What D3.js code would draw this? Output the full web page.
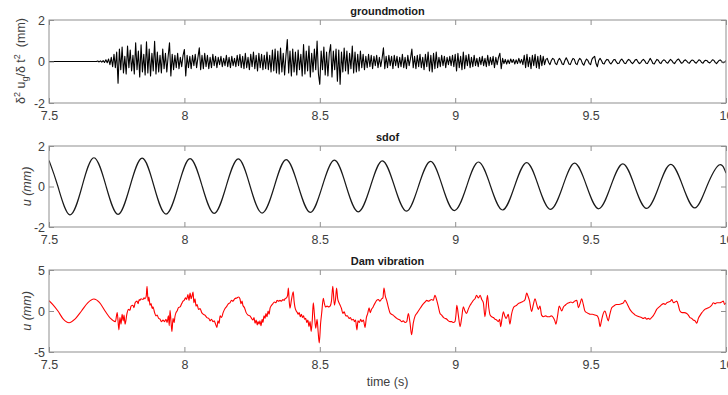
<!DOCTYPE html>
<html>
<head>
<meta charset="utf-8">
<script src="https://cdn.jsdelivr.net/npm/d3@7"></script>
<style>
  body { margin: 0; background: #fff; }
  svg { display: block; font-family: Arial, "Liberation Sans", Helvetica, sans-serif; }
</style>
</head>
<body>
<svg id="chart" width="728" height="395"></svg>
<script>
// x axis
const timeTicks = [7.5, 8, 8.5, 9, 9.5, 10];

// ground acceleration, sampled every 0.005 s from 7.5 s
const groundStart = 7.5;
const groundStep = 0.005;
const groundValues = [
  0,0,0,0,0,0,0,0,0,0,0,0,0,0,0,0,0,0,0,0,
  0,0,0,0,0,0,0,0,0,0,0,0,0,0,0,0,0.02,-0.02,0.03,-0.03,
  0.04,-0.05,0.08,-0.06,0.12,-0.15,0.2,-0.25,0.35,-0.3,0.45,-1.05,0.6,-0.4,0.7,-0.55,0.25,-0.6,0.75,-0.3,
  0.55,-0.45,0.3,-0.6,0.9,-0.4,0.5,-0.75,0.8,-0.5,0.35,-0.65,0.95,-0.55,0.6,-0.7,0.4,-0.45,0.97,-0.6,
  0.45,-0.5,0.3,-0.55,0.6,-0.35,0.4,-0.5,0.25,0.9,-0.7,0.35,-0.4,0.3,-0.3,0.4,-0.35,0.2,-0.25,0.3,
  0.58,-0.7,0.3,-0.3,0.25,-0.35,0.3,-0.2,0.35,-0.3,0.2,0.66,-0.4,0.3,-0.35,0.4,-0.25,0.3,-0.35,0.2,
  -0.3,0.35,-0.2,0.25,-0.3,0.2,-0.15,0.25,-0.25,0.15,-0.2,0.3,-0.25,0.2,-0.3,0.25,-0.2,0.15,-0.25,0.3,
  -0.2,0.35,-0.3,0.25,-0.35,0.4,-0.3,0.2,-0.4,0.35,-0.25,0.45,-0.35,0.3,-0.45,0.4,-0.3,0.35,-0.4,0.3,
  -0.35,0.45,-0.4,0.3,-0.5,0.55,-0.45,0.6,-0.55,0.5,-0.6,0.65,-0.5,0.4,-0.65,0.3,1.06,-0.55,0.5,-0.7,
  0.6,-0.5,0.45,-0.65,0.55,-0.4,0.35,-0.7,0.82,-0.6,0.5,-0.45,0.75,-0.75,0.4,-0.5,0.6,-0.4,0.98,-0.6,
  -1.1,0.5,-0.4,0.7,-0.65,0.45,-0.7,0.4,0.82,-0.75,0.5,-0.4,0.6,-0.95,0.55,-1.1,0.45,-0.5,0.65,-0.45,
  0.5,-0.6,0.4,-0.35,0.74,-0.55,0.45,-0.5,0.35,-0.45,0.5,-0.3,0.35,-0.4,0.25,-0.3,0.35,-0.25,0.3,-0.35,
  0.25,-0.2,0.3,-0.3,0.2,-0.25,0.15,0.66,-0.35,0.25,-0.3,0.3,-0.2,0.25,-0.35,0.3,-0.2,0.25,-0.3,0.2,
  -0.25,0.35,-0.3,0.2,-0.35,0.3,-0.2,0.15,0.6,-0.3,0.25,-0.35,0.3,-0.25,0.35,-0.3,0.2,-0.4,0.35,-0.25,
  0.45,-0.45,0.3,-0.5,0.4,-0.35,0.45,-0.3,0.2,-0.25,0.3,-0.2,0.25,-0.3,0.2,-0.15,0.25,-0.2,0.3,-0.25,
  0.35,-0.45,0.4,-0.3,0.25,-0.4,0.45,-0.35,0.3,-0.2,0.35,-0.3,0.2,-0.25,0.3,-0.2,0.15,-0.25,0.2,-0.15,
  0.25,-0.2,0.15,-0.25,0.3,-0.2,0.2,-0.15,0.25,-0.3,0.2,-0.15,0.2,0.4,-0.35,0.15,-0.1,0.1,-0.12,0.08,
  -0.1,0.12,-0.05,0.1,-0.12,0.08,-0.1,0.15,-0.08,0.1,-0.15,0.3,-0.3,0.35,-0.25,0.2,-0.35,0.3,-0.2,0.35,
  -0.3,0.25,-0.35,0.3,-0.2,0.25,-0.15,0.1,0.15,-0.05,-0.15,0.05,0.15,0.1,-0.1,-0.15,0.05,0.15,0.05,-0.12,
  -0.15,0.05,0.18,0.05,-0.12,-0.15,0.02,0.15,0.1,-0.1,-0.15,0.05,0.15,0.08,-0.1,-0.18,0,0.12,0.05,-0.1,
  -0.15,0.1,0.2,0.25,-0.1,-0.25,0.05,0.15,0.05,-0.1,-0.12,0.02,0.1,0.08,-0.05,-0.12,-0.03,0.08,0.1,-0.02,
  -0.1,-0.08,0.05,0.12,0.03,-0.08,-0.1,0.02,0.1,0.06,-0.05,-0.1,-0.02,0.08,0.1,-0.02,-0.1,-0.06,0.05,0.1,
  0.03,-0.08,-0.1,0.02,0.15,0.05,-0.1,-0.12,0,0.1,0.06,-0.06,-0.1,0.02,0.08,0.05,-0.05,-0.08,0.02,0.1,
  0.04,-0.06,-0.1,0,0.08,0.12,0.02,-0.08,-0.06,0.04,0.08,0.02,-0.06,-0.08,0.02,0.07,0.05,-0.04,-0.08,0,
  0.08,0.05,-0.05,-0.08,0.02,0.06,0.04,-0.04,-0.07,0,0.08,0.06,-0.04,-0.1,-0.02,0.06,0.07,-0.02,-0.06,-0.02,0.04
];

// sdof response: peaks, troughs and zero crossings [t, u]
const sdofPoints = [
  [7.5,1.29],[7.533,0],[7.577,-1.40],[7.622,0],[7.666,1.42],[7.711,0],[7.755,-1.38],[7.799,0],
  [7.844,1.40],[7.888,0],[7.932,-1.36],[7.977,0],[8.021,1.38],[8.066,0],[8.110,-1.33],[8.154,0],
  [8.199,1.36],[8.243,0],[8.287,-1.31],[8.332,0],[8.376,1.33],[8.421,0],[8.465,-1.28],[8.509,0],
  [8.554,1.30],[8.598,0],[8.642,-1.25],[8.687,0],[8.731,1.27],[8.776,0],[8.820,-1.22],[8.864,0],
  [8.909,1.24],[8.953,0],[8.997,-1.19],[9.042,0],[9.086,1.21],[9.131,0],[9.175,-1.16],[9.219,0],
  [9.264,1.18],[9.308,0],[9.352,-1.13],[9.397,0],[9.441,1.15],[9.486,0],[9.530,-1.10],[9.574,0],
  [9.619,1.12],[9.663,0],[9.707,-1.08],[9.752,0],[9.796,1.09],[9.841,0],[9.885,-1.06],[9.929,0],
  [9.974,1.06],[10.0,0.66]
];

// dam response [t, u]
const damPoints = [
  [7.5,1.26],[7.515,0.75],[7.533,0],[7.552,-0.95],[7.574,-1.43],[7.597,-0.95],[7.62,0],[7.643,1.0],
  [7.666,1.46],[7.686,1.05],[7.707,0],[7.727,-0.9],[7.745,-1.3],[7.752,-0.2],[7.758,-2.3],[7.762,-0.8],
  [7.766,-1.6],[7.77,-0.4],[7.774,-1.2],[7.777,-0.5],[7.781,-1.6],[7.788,-0.3],[7.793,0.2],[7.799,0.1],
  [7.803,0.6],[7.81,0.7],[7.814,0.4],[7.818,1.0],[7.825,1.2],[7.829,0.9],[7.833,1.4],[7.836,1.3],
  [7.84,1.5],[7.847,1.4],[7.851,1.6],[7.855,1.5],[7.859,1.8],[7.862,3.0],[7.866,1.2],[7.869,1.7],
  [7.873,0.7],[7.877,0.9],[7.881,0.3],[7.884,0.5],[7.89,-0.2],[7.895,-0.6],[7.899,-0.5],[7.905,-0.9],
  [7.91,-1.0],[7.915,-1.3],[7.921,-1.1],[7.926,-1.3],[7.932,-1.0],[7.936,-1.4],[7.941,-0.6],[7.944,-1.8],
  [7.947,0.1],[7.951,-1.5],[7.954,-2.5],[7.958,-0.9],[7.962,-1.4],[7.965,-0.7],[7.969,-0.2],[7.973,0.0],
  [7.978,0.4],[7.984,0.5],[7.99,0.9],[7.995,1.2],[7.999,1.3],[8.004,1.6],[8.008,1.4],[8.013,2.0],
  [8.017,1.3],[8.021,2.2],[8.025,1.5],[8.028,1.8],[8.032,2.3],[8.035,1.0],[8.039,1.5],[8.043,0.6],
  [8.047,0.8],[8.052,0.2],[8.058,0.3],[8.064,-0.2],[8.07,-0.4],[8.076,-0.5],[8.083,-0.8],[8.09,-0.9],
  [8.095,-1.2],[8.1,-1.0],[8.106,-1.3],[8.11,-1.2],[8.115,-1.6],[8.12,-2.0],[8.124,-1.2],[8.128,-1.5],
  [8.132,-0.6],[8.137,-0.8],[8.143,-0.2],[8.15,0.3],[8.157,0.6],[8.163,0.9],[8.168,1.0],[8.174,1.3],
  [8.179,1.2],[8.186,1.5],[8.194,1.6],[8.2,1.7],[8.205,1.5],[8.209,0.9],[8.213,1.2],[8.216,0.7],
  [8.222,0.4],[8.228,-0.2],[8.235,-0.5],[8.242,-0.6],[8.248,-0.9],[8.253,-1.1],[8.257,-0.8],[8.261,-1.5],
  [8.265,-1.1],[8.269,-1.7],[8.272,-1.3],[8.276,-1.6],[8.279,-1.2],[8.283,-1.8],[8.287,-1.0],[8.29,-1.4],
  [8.294,-0.6],[8.298,-0.9],[8.301,-0.3],[8.305,-0.7],[8.309,0.0],[8.313,-0.4],[8.316,0.3],[8.32,0.6],
  [8.327,0.9],[8.333,1.1],[8.338,1.0],[8.342,1.3],[8.348,1.2],[8.353,1.3],[8.358,1.2],[8.364,1.4],
  [8.368,1.3],[8.372,1.5],[8.377,1.6],[8.381,1.9],[8.384,2.8],[8.387,1.2],[8.39,0.35],[8.395,1.3],
  [8.402,2.35],[8.405,1.2],[8.408,0.5],[8.413,0.0],[8.417,-0.2],[8.42,-0.4],[8.424,-0.2],[8.428,-0.7],
  [8.432,-0.4],[8.436,-0.8],[8.44,-0.6],[8.444,-1.0],[8.448,-0.9],[8.452,-1.4],[8.456,-1.1],[8.46,-1.9],
  [8.464,-1.3],[8.468,-2.5],[8.472,-1.2],[8.476,1.0],[8.48,-0.4],[8.485,-2.1],[8.49,-1.0],[8.494,-2.6],
  [8.498,-3.9],[8.503,-1.5],[8.507,-0.25],[8.513,1.55],[8.517,0.9],[8.521,0.5],[8.527,0.6],[8.533,0.5],
  [8.538,0.6],[8.543,1.2],[8.548,3.0],[8.554,0.7],[8.558,1.4],[8.562,2.8],[8.566,1.5],[8.571,1.0],
  [8.575,0.7],[8.58,0.3],[8.585,-0.3],[8.59,-0.1],[8.596,-0.6],[8.602,-0.6],[8.608,-0.9],[8.613,-0.8],
  [8.618,-1.1],[8.624,-1.0],[8.628,-1.3],[8.632,-1.1],[8.637,-2.3],[8.641,-1.2],[8.646,-1.4],[8.651,-1.0],
  [8.655,-1.3],[8.661,-1.1],[8.667,-2.0],[8.672,-0.8],[8.677,-0.3],[8.682,0.4],[8.686,-0.2],[8.691,0.2],
  [8.697,0.5],[8.703,0.9],[8.71,1.3],[8.716,1.4],[8.722,1.2],[8.729,1.5],[8.733,1.6],[8.737,2.8],
  [8.742,1.8],[8.747,1.3],[8.752,0.6],[8.759,-0.2],[8.765,-0.4],[8.771,-0.5],[8.777,-0.7],[8.784,-0.9],
  [8.79,-1.0],[8.796,-1.1],[8.802,-1.3],[8.808,-1.2],[8.815,-1.4],[8.821,-1.3],[8.827,-0.3],[8.833,-1.4],
  [8.839,-2.9],[8.845,-1.5],[8.852,-0.6],[8.858,-0.3],[8.864,0.0],[8.87,0.3],[8.876,0.6],[8.883,0.9],
  [8.889,1.1],[8.895,1.3],[8.901,1.2],[8.907,1.3],[8.913,1.4],[8.919,1.3],[8.925,1.9],[8.932,1.3],
  [8.938,0.5],[8.944,-0.3],[8.95,-0.5],[8.957,-0.8],[8.963,-0.9],[8.969,-1.0],[8.975,-1.2],[8.981,-1.3],
  [8.987,-1.3],[8.993,-1.4],[8.999,-1.3],[9.003,-0.4],[9.006,0.7],[9.012,-0.6],[9.018,-1.9],[9.024,-0.8],
  [9.03,0.5],[9.036,0.0],[9.042,-0.3],[9.048,0.2],[9.055,0.7],[9.061,1.0],[9.067,1.3],[9.073,1.5],
  [9.079,1.9],[9.086,1.6],[9.092,1.9],[9.098,1.4],[9.104,1.0],[9.11,-0.7],[9.119,1.9],[9.124,0.4],
  [9.129,-0.5],[9.135,-0.7],[9.141,-0.8],[9.147,-1.0],[9.153,-1.1],[9.159,-1.3],[9.164,-1.0],[9.168,-1.9],
  [9.173,-0.9],[9.178,-0.1],[9.183,-0.6],[9.188,-0.9],[9.196,-0.4],[9.202,-1.6],[9.208,-0.4],[9.215,0.4],
  [9.221,0.6],[9.227,0.7],[9.233,0.9],[9.24,1.0],[9.246,1.1],[9.252,1.2],[9.258,1.4],[9.264,2.2],
  [9.269,1.8],[9.274,1.3],[9.282,-0.05],[9.288,0.7],[9.295,1.5],[9.301,0.8],[9.307,0.2],[9.313,0.6],
  [9.319,-0.5],[9.326,-0.7],[9.334,-0.6],[9.341,-0.7],[9.348,-0.7],[9.355,-0.6],[9.362,-0.8],[9.368,-1.2],
  [9.372,-1.6],[9.378,-0.6],[9.384,0.6],[9.389,0.3],[9.393,0.0],[9.4,0.5],[9.406,0.7],[9.413,0.9],
  [9.42,1.0],[9.427,1.1],[9.434,1.0],[9.441,1.2],[9.449,1.3],[9.455,0.4],[9.461,0.9],[9.467,1.5],
  [9.473,0.8],[9.479,0.0],[9.486,-0.2],[9.492,-0.3],[9.498,-0.4],[9.507,-0.4],[9.516,-0.5],[9.525,-0.6],
  [9.53,-1.0],[9.535,-1.9],[9.54,-1.2],[9.545,-0.5],[9.553,0.0],[9.559,-0.6],[9.565,-1.2],[9.571,-0.4],
  [9.578,0.4],[9.585,0.6],[9.596,0.8],[9.605,0.8],[9.615,0.9],[9.621,1.0],[9.627,1.3],[9.633,1.0],
  [9.639,0.6],[9.645,0.2],[9.652,-0.1],[9.658,-0.3],[9.665,-0.5],[9.672,-0.6],[9.68,-0.7],[9.688,-0.8],
  [9.695,-0.9],[9.701,-0.8],[9.707,-1.0],[9.713,-0.9],[9.719,-1.0],[9.725,-0.8],[9.731,-0.6],[9.738,-0.2],
  [9.744,0.2],[9.75,0.4],[9.757,0.6],[9.763,0.8],[9.77,0.9],[9.776,0.8],[9.781,1.0],[9.788,1.1],
  [9.795,1.2],[9.8,1.4],[9.806,1.0],[9.812,1.1],[9.818,1.2],[9.824,0.7],[9.83,0.0],[9.838,-0.2],
  [9.846,-0.2],[9.855,-0.3],[9.861,-0.5],[9.867,-0.8],[9.873,-0.9],[9.879,-1.1],[9.886,-1.2],[9.892,-1.5],
  [9.898,-0.9],[9.905,-0.5],[9.911,-0.2],[9.916,0.0],[9.922,0.2],[9.929,0.3],[9.935,0.4],[9.941,0.5],
  [9.947,0.7],[9.953,1.0],[9.96,0.9],[9.966,1.0],[9.972,1.0],[9.978,1.0],[9.984,1.1],[9.99,1.2],
  [9.995,0.8],[10.0,1.0]
];

const svg = d3.select('#chart');
const left = 49, right = 726;
const axisGrey = '#8f8f8f';
const textGrey = '#404040';

const x = d3.scaleLinear().domain([7.5, 10]).range([left, right]);

function drawPanel(opts) {
  const y = d3.scaleLinear().domain(opts.domain).range([opts.bottom, opts.top]);
  const g = svg.append('g');

  g.append('clipPath').attr('id', opts.id + '-clip')
    .append('rect')
    .attr('x', left).attr('y', opts.top)
    .attr('width', right - left).attr('height', opts.bottom - opts.top);

  const line = d3.line()
    .x(d => x(d[0]))
    .y(d => y(d[1]))
    .curve(opts.curve);

  g.append('path')
    .datum(opts.points)
    .attr('clip-path', `url(#${opts.id}-clip)`)
    .attr('fill', 'none')
    .attr('stroke', opts.color)
    .attr('stroke-width', opts.width)
    .attr('stroke-linejoin', 'round')
    .attr('d', line);

  // box
  g.append('rect')
    .attr('x', left).attr('y', opts.top)
    .attr('width', right - left).attr('height', opts.bottom - opts.top)
    .attr('fill', 'none').attr('stroke', axisGrey).attr('stroke-width', 1);

  const style = sel => {
    sel.select('.domain').remove();
    sel.selectAll('.tick line').attr('stroke', axisGrey);
    sel.selectAll('.tick text')
      .attr('fill', textGrey)
      .style('font-size', '12.5px')
      .style('font-family', 'Arial, "Liberation Sans", Helvetica, sans-serif');
  };

  g.append('g').attr('transform', `translate(0,${opts.bottom})`)
    .call(d3.axisBottom(x).tickValues(timeTicks).tickSize(-5).tickPadding(8)
      .tickFormat(d => String(d)))
    .call(style);
  g.append('g').attr('transform', `translate(0,${opts.top})`)
    .call(d3.axisTop(x).tickValues(timeTicks).tickSize(-5).tickFormat(''))
    .call(style);
  g.append('g').attr('transform', `translate(${left},0)`)
    .call(d3.axisLeft(y).tickValues(opts.ticks).tickSize(-5).tickPadding(4)
      .tickFormat(d => String(d)))
    .call(style);
  g.append('g').attr('transform', `translate(${right},0)`)
    .call(d3.axisRight(y).tickValues(opts.ticks).tickSize(-5).tickFormat(''))
    .call(style);

  g.append('text')
    .attr('x', (left + right) / 2).attr('y', opts.top - 5)
    .attr('text-anchor', 'middle')
    .attr('font-weight', 'bold')
    .attr('font-size', 11)
    .attr('fill', '#1a1a1a')
    .text(opts.title);

  return { g, y };
}

const ground = groundValues.map((v, i) => [groundStart + i * groundStep, v]);

drawPanel({
  id: 'gm', title: 'groundmotion', top: 20, bottom: 103,
  domain: [-2, 2], ticks: [-2, 0, 2],
  points: ground, curve: d3.curveLinear, color: '#000', width: 1.1
});
drawPanel({
  id: 'sdof', title: 'sdof', top: 146, bottom: 227,
  domain: [-2, 2], ticks: [-2, 0, 2],
  points: sdofPoints, curve: d3.curveNatural, color: '#1a1a1a', width: 1.2
});
drawPanel({
  id: 'dam', title: 'Dam vibration', top: 270, bottom: 352,
  domain: [-5, 5], ticks: [-5, 0, 5],
  points: damPoints, curve: d3.curveMonotoneX, color: '#ff0000', width: 1.1
});

// y labels
const yl1 = svg.append('text')
  .attr('transform', 'translate(25,61) rotate(-90)')
  .attr('text-anchor', 'middle')
  .attr('font-size', 12.5)
  .attr('fill', textGrey);
yl1.append('tspan').text('\u03b4');
yl1.append('tspan').attr('dy', -5).attr('font-size', 9).text('2');
yl1.append('tspan').attr('dy', 5).text(' u');
yl1.append('tspan').attr('dy', 3).attr('font-size', 9).text('g');
yl1.append('tspan').attr('dy', -3).text('/\u03b4 t');
yl1.append('tspan').attr('dy', -5).attr('font-size', 9).text('2');
yl1.append('tspan').attr('dy', 5).text('\u00a0 (mm)');

[186.5, 311].forEach(cy => {
  svg.append('text')
    .attr('transform', `translate(31,${cy}) rotate(-90)`)
    .attr('text-anchor', 'middle')
    .attr('font-size', 12.5)
    .attr('font-style', 'italic')
    .attr('fill', textGrey)
    .text('u (mm)');
});

svg.append('text')
  .attr('x', (left + right) / 2).attr('y', 386)
  .attr('text-anchor', 'middle')
  .attr('font-size', 12.5)
  .attr('fill', textGrey)
  .text('time (s)');
</script>
</body>
</html>
